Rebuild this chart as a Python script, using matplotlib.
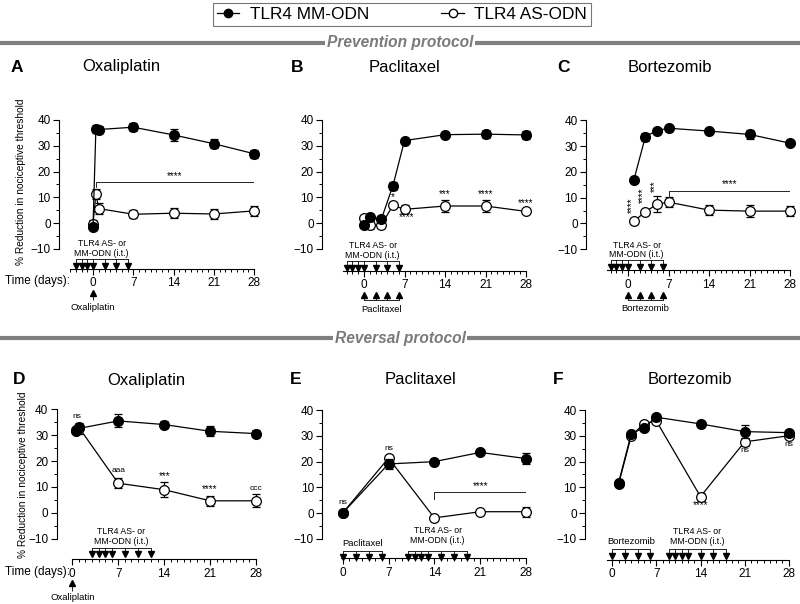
import numpy as np
import matplotlib
matplotlib.use("Agg")
import matplotlib.pyplot as plt
from matplotlib.lines import Line2D
from matplotlib.ticker import MultipleLocator

plt.rcParams['font.family'] = ['Liberation Sans', 'DejaVu Sans']

W, H = 800, 604

# ---- data ----
# A: oxaliplatin, prevention
a_days = [0, 0.5, 1, 7, 14, 21, 28]
a_mm = [-1.7, 36.5, 36.3, 37.2, 34.2, 30.8, 26.9]
a_mm_err = [0.8, 1.5, 1.2, 1.5, 2.2, 1.8, 1.5]
a_as = [-0.4, 11.3, 5.6, 3.4, 3.8, 3.5, 4.7]
a_as_err = [1.5, 2.0, 2.2, 1.5, 2.0, 1.8, 1.8]

# B: paclitaxel, prevention
b_days = [0, 1, 3, 5, 7, 14, 21, 28]
b_mm = [-0.8, 2.2, 1.5, 14.5, 32.0, 34.3, 34.5, 34.2]
b_mm_err = [0.5, 0.5, 0.5, 1.5, 0.8, 0.8, 1.5, 1.5]
b_as = [2.0, -0.9, -0.8, 6.9, 5.3, 6.6, 6.6, 4.5]
b_as_err = [0.5, 1.5, 0.5, 0.5, 1.5, 2.5, 2.5, 0.5]

# C: bortezomib, prevention
c_days = [1, 3, 5, 7, 14, 21, 28]
c_mm = [16.8, 33.7, 36.1, 37.0, 35.9, 34.6, 31.2]
c_mm_err = [0.5, 1.5, 0.8, 0.5, 0.5, 1.8, 0.5]
c_as = [0.9, 4.5, 7.5, 8.3, 5.2, 4.8, 4.8]
c_as_err = [0.5, 0.8, 3.0, 1.8, 2.0, 2.2, 2.0]

# D: oxaliplatin, reversal
d_days = [0.5, 1, 7, 14, 21, 28]
d_mm = [31.7, 32.6, 35.5, 34.1, 31.5, 30.6]
d_mm_err = [0.8, 2.0, 2.5, 1.5, 2.0, 1.3]
d_as = [32.0, 33.0, 11.4, 8.9, 4.6, 4.6]
d_as_err = [1.0, 1.5, 2.0, 3.0, 2.0, 2.5]

# E: paclitaxel, reversal
e_days = [0, 7, 14, 21, 28]
e_mm = [0, 19.1, 20.0, 23.6, 21.2]
e_mm_err = [0.3, 2.0, 0.5, 0.5, 2.0]
e_as = [0, 21.4, -1.9, 0.5, 0.5]
e_as_err = [0.3, 0.5, 0.5, 0.5, 2.0]

# F: bortezomib, reversal
f_days = [1, 3, 5, 7, 14, 21, 28]
f_mm = [11.8, 30.8, 33.2, 37.3, 34.7, 31.7, 31.3]
f_mm_err = [0.5, 0.5, 0.5, 0.5, 0.5, 2.5, 0.5]
f_as = [11.3, 30.0, 34.8, 35.8, 6.4, 27.7, 30.1]
f_as_err = [0.5, 0.5, 0.5, 0.5, 1.5, 1.5, 0.5]

# dosing days
tlr4_prev = [-3, -2, -1, 0, 2, 4, 6]
chemo_4x = [0, 2, 4, 6]
d_tlr4 = [3, 4, 5, 6, 8, 10, 12]
e_tlr4 = [10, 11, 12, 13, 15, 17, 19]
f_tlr4 = [9, 10, 11, 12, 14, 16, 18]

tlr4_label = "TLR4 AS- or\nMM-ODN (i.t.)"

fig = plt.figure(figsize=(W / 100, H / 100), dpi=100)


def make_ax(x0, x28, y0, y40, xax, yax, xs):
    # pixel geometry -> axes
    pxd = (x28 - x0) / 28
    pxv = (y0 - y40) / 40
    left = x0 + xs * pxd
    top = y0 - 44 * pxv
    ybot = -(xax - y0) / pxv
    ax = fig.add_axes([left / W, 1 - xax / H, (x28 - left) / W, (xax - top) / H])
    ax.set_xlim(xs, 28)
    ax.set_ylim(ybot, 44)
    ax.patch.set_visible(False)
    ax.spines[['top', 'right']].set_visible(False)
    ax.spines['left'].set_position(('outward', (left - yax) * 0.72))
    ax.spines['left'].set_bounds(-10, 40)
    for s in ['left', 'bottom']:
        ax.spines[s].set_linewidth(0.8)
    ax.set_yticks([-10, 0, 10, 20, 30, 40])
    ax.set_yticks([-5, 5, 15, 25, 35], minor=True)
    ax.set_xticks([0, 7, 14, 21, 28])
    ax.xaxis.set_minor_locator(MultipleLocator(1))
    ax.tick_params(which='major', length=4, width=0.8, labelsize=8.5, pad=2)
    ax.tick_params(which='minor', length=2.5, width=0.7)
    return ax, ybot, pxv


def draw_series(ax, days, mm, mm_err, as_, as_err):
    ax.errorbar(days, as_, yerr=as_err, fmt='o-', color='k', mfc='white', mec='k',
                ms=7, lw=0.9, elinewidth=0.9, capsize=3, capthick=0.9, mew=0.9,
                clip_on=False, zorder=3)
    ax.errorbar(days, mm, yerr=mm_err, fmt='o-', color='k', mfc='k', mec='k',
                ms=7, lw=0.9, elinewidth=0.9, capsize=3, capthick=0.9,
                clip_on=False, zorder=4)


def doses_down(ax, ybot, pxv, days, label, tri, br, txt, fs=6.3):
    yt = ybot + tri / pxv
    yb = ybot + br / pxv
    ax.plot(days, [yt] * len(days), 'v', color='k', ms=4.5, clip_on=False, zorder=5)
    ax.vlines(days, yt, yb, color='k', lw=0.6, clip_on=False)
    ax.plot([min(days), max(days)], [yb, yb], color='k', lw=0.6, clip_on=False)
    ax.text((min(days) + max(days)) / 2, ybot + txt / pxv, label, ha='center',
            va='center', fontsize=fs, linespacing=1.1, clip_on=False)


def doses_up(ax, ybot, pxv, days, label, tri=-24, br=-29, txt=-38):
    yt = ybot + tri / pxv
    yb = ybot + br / pxv
    ax.plot(days, [yt] * len(days), '^', color='k', ms=4.5, clip_on=False)
    ax.vlines(days, yt, yb, color='k', lw=0.6, clip_on=False)
    if len(days) > 1:
        ax.plot([min(days), max(days)], [yb, yb], color='k', lw=0.6, clip_on=False)
    ax.text((min(days) + max(days)) / 2, ybot + txt / pxv, label, ha='center',
            va='center', fontsize=6.8, clip_on=False)


def sig_bracket(ax, x1, x2, y, drop, text):
    ax.plot([x1, x1, x2, x2], [y - drop, y, y, y - drop], color='k', lw=0.6)
    ax.text((x1 + x2) / 2, y + 0.6, text, ha='center', va='bottom', fontsize=7)


def star(ax, x, y, text, fs=7, **kw):
    ax.text(x, y, text, ha='center', va='center', fontsize=fs, **kw)


# ---- legend ----
h_mm = Line2D([], [], color='k', marker='o', mfc='k', mec='k', ms=6, lw=0.9)
h_as = Line2D([], [], color='k', marker='o', mfc='white', mec='k', ms=6, lw=0.9)
leg = fig.legend([h_mm, h_as], ['TLR4 MM-ODN', 'TLR4 AS-ODN'], loc='center',
                 bbox_to_anchor=(402 / W, 1 - 14.5 / H), ncol=2, fontsize=12.4,
                 frameon=True, fancybox=False, edgecolor='#555555',
                 handlelength=1.3, columnspacing=4.2, borderpad=0.25,
                 handletextpad=0.6)
leg.get_frame().set_linewidth(0.8)

# ---- section headers ----
for ypx, label in [(43, 'Prevention protocol'), (338, 'Reversal protocol')]:
    fig.add_artist(Line2D([0, 1], [1 - ypx / H] * 2, transform=fig.transFigure,
                          color='#808080', lw=3, zorder=1))
    fig.text(0.5, 1 - ypx / H, label, ha='center', va='center', fontsize=11.2,
             weight='bold', style='italic', color='#7a7a7a', zorder=2,
             bbox=dict(facecolor='white', edgecolor='none', pad=1.5))

# ---- panel titles ----
titles = [('A', 17, 'Oxaliplatin', 121, 67), ('B', 297, 'Paclitaxel', 405, 67),
          ('C', 563, 'Bortezomib', 670, 67), ('D', 19, 'Oxaliplatin', 146, 380),
          ('E', 296, 'Paclitaxel', 420, 380), ('F', 558, 'Bortezomib', 690, 380)]
for let, lx, name, tx, ty in titles:
    fig.text(lx / W, 1 - ty / H, let, ha='center', va='center', fontsize=12.5,
             weight='bold')
    fig.text(tx / W, 1 - ty / H, name, ha='center', va='center', fontsize=12)

ylab = '% Reduction in nociceptive threshold'

# ---- A ----
ax, yb, pv = make_ax(93, 254, 223, 120, 269, 59, -4)
draw_series(ax, a_days, a_mm, a_mm_err, a_as, a_as_err)
sig_bracket(ax, 0.5, 28, 15.8, 2, '****')
doses_down(ax, yb, pv, tlr4_prev, tlr4_label, 3.5, 10, 20.5)
doses_up(ax, yb, pv, [0], 'Oxaliplatin', tri=-24, br=-31, txt=-39)
fig.text(5 / W, 1 - 281 / H, 'Time (days):', fontsize=8.5, ha='left', va='center')
fig.text(21 / W, 1 - 182 / H, ylab, rotation=90, ha='center', va='center', fontsize=7.3)

# ---- B ----
ax, yb, pv = make_ax(364, 526, 223, 120, 271, 322, -3.6)
draw_series(ax, b_days, b_mm, b_mm_err, b_as, b_as_err)
star(ax, 5, 10.0, '*')
star(ax, 7.4, 2.2, '****')
star(ax, 14, 11.3, '***')
star(ax, 21, 11.3, '****')
star(ax, 28, 7.9, '****')
doses_down(ax, yb, pv, tlr4_prev, tlr4_label, 3.5, 10, 20.5)
doses_up(ax, yb, pv, chemo_4x, 'Paclitaxel')

# ---- C ----
ax, yb, pv = make_ax(628, 790, 223.5, 120.5, 270.5, 586, -3.6)
draw_series(ax, c_days, c_mm, c_mm_err, c_as, c_as_err)
star(ax, 0.6, 7.2, '****', rotation=90)
star(ax, 2.6, 11.0, '****', rotation=90)
star(ax, 4.6, 14.5, '***', rotation=90)
sig_bracket(ax, 7, 28, 12.8, 2.3, '****')
doses_down(ax, yb, pv, tlr4_prev, tlr4_label, 3.5, 10, 20.5)
doses_up(ax, yb, pv, chemo_4x, 'Bortezomib')

# ---- D ----
ax, yb, pv = make_ax(72.3, 256, 512.7, 409.3, 559.3, 56.7, 0)
draw_series(ax, d_days, d_mm, d_mm_err, d_as, d_as_err)
star(ax, 0.7, 37.4, 'ns', fs=6)
star(ax, 7, 16.2, 'aaa', fs=6)
star(ax, 14, 14.3, '***')
star(ax, 21, 9.2, '****')
star(ax, 28, 9.2, 'ccc', fs=6)
doses_down(ax, yb, pv, d_tlr4, tlr4_label, 5, 11.6, 23)
doses_up(ax, yb, pv, [0], 'Oxaliplatin', tri=-24, br=-32, txt=-38)
fig.text(5 / W, 1 - 572 / H, 'Time (days):', fontsize=8.5, ha='left', va='center')
fig.text(23 / W, 1 - 475 / H, ylab, rotation=90, ha='center', va='center', fontsize=7.3)

# ---- E ----
ax, yb, pv = make_ax(342.7, 526, 513, 410.3, 558.3, 322.3, -0.2)
draw_series(ax, e_days, e_mm, e_mm_err, e_as, e_as_err)
star(ax, 0, 4.2, 'ns', fs=6)
star(ax, 7, 25.2, 'ns', fs=6)
sig_bracket(ax, 14, 28, 8, 2.5, '****')
doses_down(ax, yb, pv, chemo_4x, 'Paclitaxel', 1.6, 7.3, 15, fs=6.8)
doses_down(ax, yb, pv, e_tlr4, tlr4_label, 1.6, 7.6, 22.5)

# ---- F ----
ax, yb, pv = make_ax(612.3, 788.7, 513, 410.3, 560, 585, -0.8)
draw_series(ax, f_days, f_mm, f_mm_err, f_as, f_as_err)
star(ax, 14, 2.9, '****')
star(ax, 21, 24.5, 'ns', fs=6)
star(ax, 28, 26.5, 'ns', fs=6)
doses_down(ax, yb, pv, chemo_4x, 'Bortezomib', 4, 11, 18, fs=6.8)
doses_down(ax, yb, pv, f_tlr4, tlr4_label, 4, 11, 23.5)

fig.savefig('out.png', dpi=100)
